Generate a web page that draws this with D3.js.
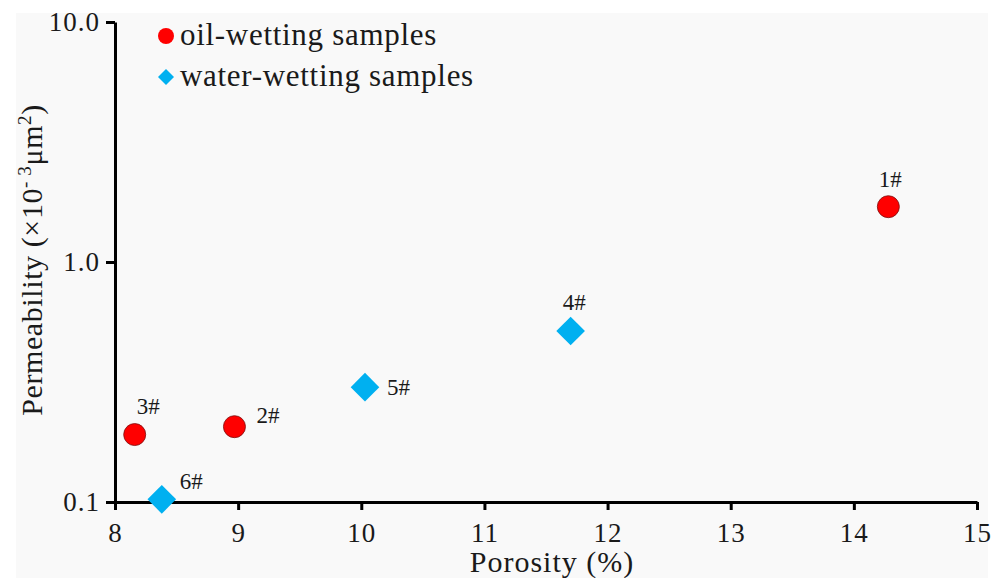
<!DOCTYPE html>
<html>
<head>
<meta charset="utf-8">
<script src="https://cdn.jsdelivr.net/npm/d3@7"></script>
</head>
<body style="margin:0; background:#ffffff">
<div id="chart"></div>
<script>
// porosity vs permeability, oil- and water-wetting samples
var sampleNames = ["1#", "2#", "3#", "4#", "5#", "6#"];
var sampleType = ["oil", "oil", "oil", "water", "water", "water"];
var porosity = [14.28, 8.97, 8.16, 11.70, 10.03, 8.38];
var permeability = [1.70, 0.206, 0.191, 0.516, 0.301, 0.1026];

var xTicks = [8, 9, 10, 11, 12, 13, 14, 15];
var yTicks = [0.1, 1, 10];
var legendLabels = ["oil-wetting samples", "water-wetting samples"];

var INK = "#1a1a1a";

var svgWidth = 997;
var svgHeight = 578;
var margin = { top: 22, right: 20, bottom: 76, left: 115 };
var width = 977 - margin.left;
var height = 502 - margin.top;

var svg = d3.select("#chart")
  .append("svg")
  .attr("width", svgWidth)
  .attr("height", svgHeight)
  .attr("font-family", "Liberation Serif");

// light grey panel behind everything
svg.append("rect")
  .attr("x", 16).attr("y", 13)
  .attr("width", 972).attr("height", 565)
  .attr("fill", "#f9f9f9");

var chartGroup = svg.append("g")
  .attr("transform", `translate(${margin.left}, ${margin.top})`);

var xScale = d3.scaleLinear()
  .domain([8, 15])
  .range([0, width]);

var yScale = d3.scaleLog()
  .domain([0.1, 10])
  .range([height, 0]);

// axes
var bottomAxis = d3.axisBottom(xScale)
  .tickValues(xTicks)
  .tickSize(8)
  .tickPadding(6)
  .tickSizeOuter(0)
  .tickFormat(d3.format("d"));

var leftAxis = d3.axisLeft(yScale)
  .tickValues(yTicks)
  .tickSize(9)
  .tickPadding(6)
  .tickSizeOuter(0)
  .tickFormat(d3.format(".1f"));

var xAxisG = chartGroup.append("g")
  .attr("transform", `translate(0, ${height})`)
  .call(bottomAxis);

var yAxisG = chartGroup.append("g")
  .call(leftAxis);

[xAxisG, yAxisG].forEach(function(g) {
  g.attr("font-family", "Liberation Serif").attr("font-size", 27);
  g.selectAll("path, line").attr("stroke", "#000").attr("stroke-width", 3);
  g.selectAll("text").attr("fill", INK).attr("letter-spacing", 1);
});
xAxisG.selectAll("text").attr("dy", "0.95em");
yAxisG.selectAll("text").attr("dy", "0.33em");

// points
var isOil = function(i) { return sampleType[i] === "oil"; };
var idx = d3.range(sampleNames.length);

chartGroup.selectAll("circle.pt")
  .data(idx.filter(isOil))
  .enter()
  .append("circle")
  .attr("class", "pt")
  .attr("cx", i => xScale(porosity[i]))
  .attr("cy", i => yScale(permeability[i]))
  .attr("r", 11)
  .attr("fill", "#ff0000")
  .attr("stroke", "#7a1010")
  .attr("stroke-width", 0.8);

var diamond = d3.symbol().type(d3.symbolSquare).size(410);
chartGroup.selectAll("path.pt")
  .data(idx.filter(i => !isOil(i)))
  .enter()
  .append("path")
  .attr("class", "pt")
  .attr("d", diamond)
  .attr("transform", i => `translate(${xScale(porosity[i])}, ${yScale(permeability[i])}) rotate(45)`)
  .attr("fill", "#00b0f0");

// sample labels, offsets from the mark
var labelOffset = [[2, -20], [22, -4], [2, -21], [-8, -21], [22, 8], [18, -10]];
chartGroup.selectAll("text.lbl")
  .data(idx)
  .enter()
  .append("text")
  .attr("class", "lbl")
  .attr("x", i => xScale(porosity[i]) + labelOffset[i][0])
  .attr("y", i => yScale(permeability[i]) + labelOffset[i][1])
  .attr("text-anchor", i => (i === 0 ? "middle" : "start"))
  .attr("fill", INK)
  .attr("font-size", 23)
  .text(i => sampleNames[i]);

// legend
var legend = svg.append("g").attr("transform", "translate(166, 36)");
legend.append("circle").attr("r", 8).attr("fill", "#ff0000");
legend.append("path")
  .attr("d", d3.symbol().type(d3.symbolSquare).size(128))
  .attr("transform", "translate(0, 41) rotate(45)")
  .attr("fill", "#00b0f0");
legend.selectAll("text")
  .data(legendLabels)
  .enter()
  .append("text")
  .attr("x", 14)
  .attr("y", (d, i) => 9 + i * 41)
  .attr("fill", INK)
  .attr("font-size", 31)
  .attr("letter-spacing", 0.7)
  .text(d => d);

// axis titles
svg.append("text")
  .attr("x", 552)
  .attr("y", 572)
  .attr("text-anchor", "middle")
  .attr("fill", INK)
  .attr("font-size", 30)
  .attr("letter-spacing", 1)
  .text("Porosity (%)");

var yTitle = svg.append("text")
  .attr("transform", "translate(42, 260) rotate(-90)")
  .attr("text-anchor", "middle")
  .attr("fill", INK)
  .attr("font-size", 30)
  .attr("letter-spacing", 0.6);
yTitle.append("tspan").text("Permeability  (×10");
yTitle.append("tspan").attr("dy", -11).attr("font-size", 19).text("- 3");
yTitle.append("tspan").attr("dy", 11).text("μm");
yTitle.append("tspan").attr("dy", -11).attr("font-size", 19).text("2");
yTitle.append("tspan").attr("dy", 11).text(")");
</script>
</body>
</html>
